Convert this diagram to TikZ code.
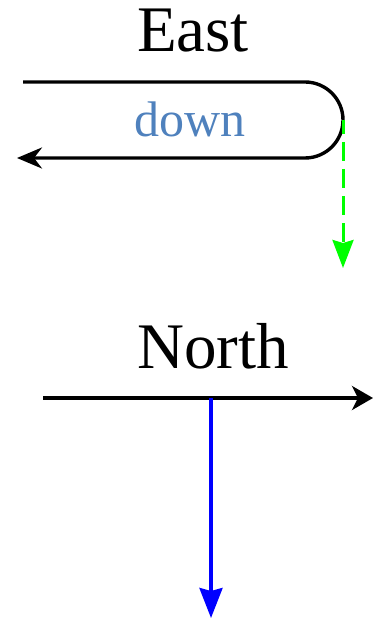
\documentclass[tikz,border=0pt]{standalone}
\usepackage{fontspec}
\setmainfont{Liberation Serif}
\usetikzlibrary{positioning, calc, arrows.meta}

\definecolor{labelblue}{RGB}{79,129,189}
\definecolor{brightgreen}{RGB}{0,255,0}

\begin{document}
\begin{tikzpicture}[
    x=1pt, y=-1pt,
    titlestyle/.style={
        font=\fontsize{65}{72}\selectfont,
        anchor=base,
        inner sep=0pt
    },
    pathline/.style={
        line width=3.4pt,
        draw=black
    },
    blacktip/.style={
        -{Stealth[length=25pt, width=21pt, inset=8pt]}
    },
    movearrow/.style={
        line width=3.4pt,
        -{Stealth[length=30pt, width=23pt, inset=3pt]}
    }
]

\useasboundingbox (0,0) rectangle (373,620);

% Geometry parameters
\def\r{38}      % turn radius
\def\ytop{82}   % upper lane
\def\ynorth{398}

% Upper part: U-turn going east
\node[titlestyle] (east) at (193,52) {East};
\node[titlestyle, font=\fontsize{50}{56}\selectfont, text=labelblue] (down) at (190,137) {down};

\coordinate (inA) at (23,\ytop);
\coordinate (turnA) at (305,\ytop);
\coordinate (outA) at (17,\ytop+2*\r);
\coordinate (sideA) at (305+\r,\ytop+\r);
\coordinate (endA) at (305+\r,268);

\draw[pathline, blacktip] (inA) -- (turnA)
    arc[start angle=-90, end angle=90, radius=\r] -- (outA);
\draw[brightgreen, line width=3pt, dash pattern=on 19pt off 8pt, dash phase=5pt,
      -{Stealth[length=28pt, width=21pt, inset=3pt]}] (sideA) -- (endA);

% Lower part: straight lane going north
\node[titlestyle] (north) at (213,368) {North};

\coordinate (inB) at (43,\ynorth);
\coordinate (outB) at (373,\ynorth);
\coordinate (midB) at (211,\ynorth);
\coordinate (endB) at (211,618);

\draw[pathline, -{Stealth[length=21pt, width=24pt, inset=6pt]}] (inB) -- (outB);
\draw[movearrow, blue] (midB) -- (endB);

\end{tikzpicture}
\end{document}
